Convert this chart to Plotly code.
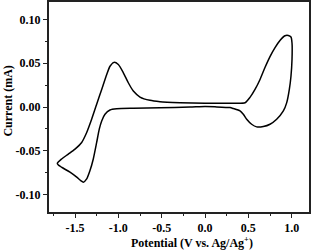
import plotly.graph_objects as go

# Cyclic voltammogram, traced as one closed loop (V vs. Ag/Ag+, mA)
potential = [0.000, 0.173, 0.346, 0.462, 0.519, 0.577, 0.635, 0.692, 0.750, 0.808, 0.865,
             0.923, 0.961, 0.992, 1.004, 1.004, 0.992, 0.973, 0.943, 0.904, 0.827, 0.750,
             0.673, 0.596, 0.538, 0.481, 0.442, 0.404, 0.327, 0.288, 0.115, 0.000,
             -0.173, -0.519, -0.827, -1.019, -1.096, -1.154, -1.192, -1.220, -1.250,
             -1.289, -1.327, -1.365, -1.404, -1.434, -1.480, -1.558, -1.635, -1.692,
             -1.704, -1.654, -1.577, -1.500, -1.423, -1.365, -1.308, -1.250, -1.192,
             -1.134, -1.096, -1.050, -1.000, -0.942, -0.885, -0.827, -0.750, -0.635,
             -0.519, -0.288, 0.000]
current = [0.0042, 0.0042, 0.0042, 0.0048, 0.0110, 0.0201, 0.0315, 0.0451, 0.0576, 0.0679,
           0.0761, 0.0815, 0.0818, 0.0800, 0.0732, 0.0542, 0.0352, 0.0201, 0.0050, -0.0045,
           -0.0140, -0.0197, -0.0223, -0.0227, -0.0197, -0.0140, -0.0083, -0.0045, -0.0018,
           -0.0007, 0.0002, 0.0005,
           -0.0001, -0.0009, -0.0014, -0.0020, -0.0034, -0.0083, -0.0159, -0.0253, -0.0405,
           -0.0594, -0.0727, -0.0822, -0.0859, -0.0841, -0.0802, -0.0745, -0.0700, -0.0663,
           -0.0643, -0.0594, -0.0538, -0.0481, -0.0405, -0.0291, -0.0140, 0.0031, 0.0201,
           0.0372, 0.0466, 0.0510, 0.0485, 0.0391, 0.0277, 0.0182, 0.0114, 0.0076,
           0.0061, 0.0050, 0.0042]

x_ticks = [-1.5, -1.0, -0.5, 0.0, 0.5, 1.0]
x_labels = ["-1.5", "-1.0", "-0.5", "0.0", "0.5", "1.0"]
y_ticks = [-0.10, -0.05, 0.00, 0.05, 0.10]
y_labels = ["-0.10", "-0.05", "0.00", "0.05", "0.10"]

font = dict(family="Liberation Serif", size=12, color="black", weight="bold")

fig = go.Figure()
fig.add_trace(go.Scatter(x=potential, y=current, mode="lines",
                         line=dict(color="black", width=1.5, shape="spline", smoothing=0.6),
                         showlegend=False, hoverinfo="skip"))

axis_common = dict(showgrid=False, zeroline=False, showline=True, linecolor="#222",
                   linewidth=2, mirror=True, ticks="outside", ticklen=4, tickwidth=1,
                   tickcolor="#222", tickfont=font, automargin=False)

fig.update_xaxes(range=[-1.8, 1.2], tickvals=x_ticks, ticktext=x_labels,
                 minor=dict(ticks="outside", ticklen=2, dtick=0.25, tick0=0, tickcolor="#222"),
                 **axis_common)
fig.update_yaxes(range=[-0.12, 0.12], tickvals=y_ticks, ticktext=y_labels,
                 minor=dict(ticks="outside", ticklen=2, dtick=0.025, tick0=0, tickcolor="#222"),
                 **axis_common)

fig.add_annotation(text="<b>Potential (V vs. Ag/Ag<sup>+</sup>)</b>", xref="paper", yref="paper",
                   x=0.55, y=-0.145, xanchor="center", yanchor="middle", showarrow=False,
                   font=font)
fig.add_annotation(text="<b>Current (mA)</b>", xref="paper", yref="paper",
                   x=-0.158, y=0.53, xanchor="center", yanchor="middle", showarrow=False,
                   textangle=-90, font=font)

fig.update_layout(width=312, height=251, margin=dict(l=49, r=3, t=2, b=39),
                  paper_bgcolor="white", plot_bgcolor="white", autosize=False,
                  font=font)

post = ("document.body.style.margin='0px';document.body.style.padding='0px';"
        "var gd=document.getElementById('{plot_id}');"
        "Plotly.relayout(gd,{width:312,height:251});")
fig.write_html("out.html", config={"responsive": False, "displayModeBar": False},
               post_script=post)
